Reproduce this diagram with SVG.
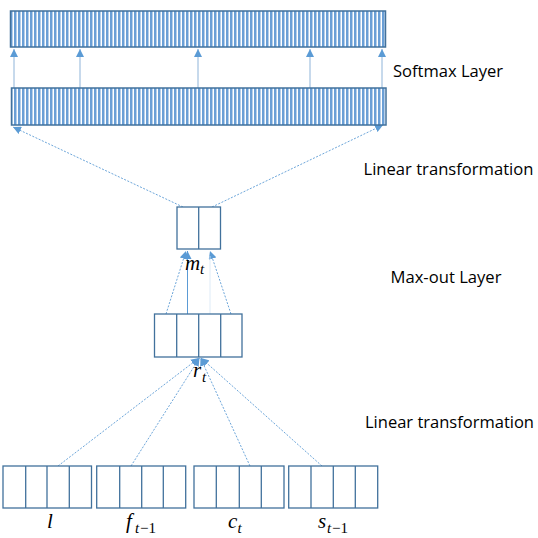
<svg xmlns="http://www.w3.org/2000/svg" width="538" height="538" viewBox="0 0 538 538">
<defs>
<pattern id="stripes" patternUnits="userSpaceOnUse" x="10" y="0" width="4" height="10">
<rect x="0" y="0" width="4" height="10" fill="#6a9fd6"/>
<rect x="2.5" y="0" width="1.5" height="10" fill="#ffffff"/>
</pattern>
<marker id="arr" viewBox="0 0 10 10" refX="10" refY="5" markerWidth="8" markerHeight="8" markerUnits="userSpaceOnUse" orient="auto">
<path d="M0,0 L10,5 L0,10 z" fill="#5b9bd5"/>
</marker>
</defs>
<style>
.bar{fill:url(#stripes);stroke:#41719c;stroke-width:1.5}
.cell{fill:#ffffff;stroke:#41719c;stroke-width:1.3}
.div{stroke:#41719c;stroke-width:1.3}
.up{stroke:#8fb4d9;stroke-width:1;fill:none}
.dash{stroke:#5b9bd5;stroke-width:0.9;stroke-dasharray:2,1.5;fill:none}
.solid{stroke:#5b9bd5;stroke-width:1;fill:none}
.lab{font-family:"Open Sans","Liberation Sans",Arial,sans-serif;font-size:16px;fill:#000}
.math{font-family:"Liberation Serif","DejaVu Serif",serif;font-style:italic;font-size:21px;fill:#000}
.sub{font-family:"Liberation Serif","DejaVu Serif",serif;font-style:italic;font-size:15px;fill:#000}
.subn{font-family:"Liberation Serif","DejaVu Serif",serif;font-size:15px;fill:#000}
</style>
<g id="connectors">
<line class="up" x1="14" y1="88" x2="14" y2="49" marker-end="url(#arr)"/>
<line class="up" x1="80" y1="88" x2="80" y2="49" marker-end="url(#arr)"/>
<line class="up" x1="198" y1="88" x2="198" y2="49" marker-end="url(#arr)"/>
<line class="up" x1="310" y1="88" x2="310" y2="49" marker-end="url(#arr)"/>
<line class="up" x1="382" y1="88" x2="382" y2="49" marker-end="url(#arr)"/>
<line class="dash" x1="183" y1="207" x2="13" y2="127" marker-end="url(#arr)"/>
<line class="dash" x1="212" y1="207" x2="383" y2="125" marker-end="url(#arr)"/>
<line class="dash" x1="166" y1="314" x2="186" y2="251" marker-end="url(#arr)"/>
<line class="solid" x1="187.5" y1="314" x2="187.5" y2="251" marker-end="url(#arr)"/>
<line class="dash" x1="231" y1="314" x2="210" y2="251" marker-end="url(#arr)"/>
<line x1="210" y1="314" x2="210" y2="256" stroke="#d6e6f5" stroke-width="0.8"/>
<line class="dash" x1="58" y1="466" x2="199" y2="358" marker-end="url(#arr)"/>
<line class="dash" x1="131" y1="466" x2="199.5" y2="358" marker-end="url(#arr)"/>
<line class="dash" x1="250" y1="466" x2="200.5" y2="358" marker-end="url(#arr)"/>
<line class="dash" x1="322" y1="466" x2="201" y2="358" marker-end="url(#arr)"/>
</g>
<g id="softmax-out">
<rect class="bar" x="10.5" y="11" width="375" height="36"/>
</g>
<g id="softmax-in">
<rect class="bar" x="11.5" y="88" width="374.5" height="37"/>
</g>
<g id="mt">
<rect class="cell" x="177" y="207" width="43.5" height="42"/>
<line class="div" x1="198.7" y1="207" x2="198.7" y2="249"/>
<text class="math" x="185" y="270">m</text><text class="sub" x="200" y="274">t</text>
</g>
<g id="rt">
<rect class="cell" x="154.5" y="314" width="87.5" height="43"/>
<line class="div" x1="176.7" y1="314" x2="176.7" y2="357"/>
<line class="div" x1="198.7" y1="314" x2="198.7" y2="357"/>
<line class="div" x1="220.7" y1="314" x2="220.7" y2="357"/>
<text class="math" x="193" y="377">r</text><text class="sub" x="202" y="382">t</text>
</g>
<g id="l">
<rect class="cell" x="3" y="466" width="88.5" height="42"/>
<line class="div" x1="25.7" y1="466" x2="25.7" y2="508"/>
<line class="div" x1="47" y1="466" x2="47" y2="508" stroke-width="2"/>
<line class="div" x1="69.3" y1="466" x2="69.3" y2="508"/>
<text class="math" x="47" y="528">l</text>
</g>
<g id="f">
<rect class="cell" x="96.7" y="466" width="89" height="42"/>
<line class="div" x1="119.7" y1="466" x2="119.7" y2="508"/>
<line class="div" x1="141.7" y1="466" x2="141.7" y2="508"/>
<line class="div" x1="163.3" y1="466" x2="163.3" y2="508"/>
<text class="math" x="126" y="528">f</text><text class="sub" x="135" y="533">t</text><text class="subn" x="140" y="533">−1</text>
</g>
<g id="c">
<rect class="cell" x="194" y="466" width="90" height="42"/>
<line class="div" x1="216.3" y1="466" x2="216.3" y2="508"/>
<line class="div" x1="239.3" y1="466" x2="239.3" y2="508"/>
<line class="div" x1="261.3" y1="466" x2="261.3" y2="508" stroke-width="2"/>
<text class="math" x="228" y="528">c</text><text class="sub" x="237.5" y="533">t</text>
</g>
<g id="s">
<rect class="cell" x="288.7" y="466" width="89" height="42"/>
<line class="div" x1="311" y1="466" x2="311" y2="508"/>
<line class="div" x1="333.3" y1="466" x2="333.3" y2="508"/>
<line class="div" x1="355.3" y1="466" x2="355.3" y2="508"/>
<text class="math" x="318" y="528">s</text><text class="sub" x="327" y="533">t</text><text class="subn" x="332" y="533">−1</text>
</g>
<g id="labels">
<text class="lab" x="393" y="77" textLength="110" lengthAdjust="spacingAndGlyphs">Softmax Layer</text>
<text class="lab" x="363.5" y="175" textLength="170" lengthAdjust="spacingAndGlyphs">Linear transformation</text>
<text class="lab" x="390.5" y="283" textLength="111" lengthAdjust="spacingAndGlyphs">Max-out Layer</text>
<text class="lab" x="365" y="428" textLength="169" lengthAdjust="spacingAndGlyphs">Linear transformation</text>
</g>
</svg>
